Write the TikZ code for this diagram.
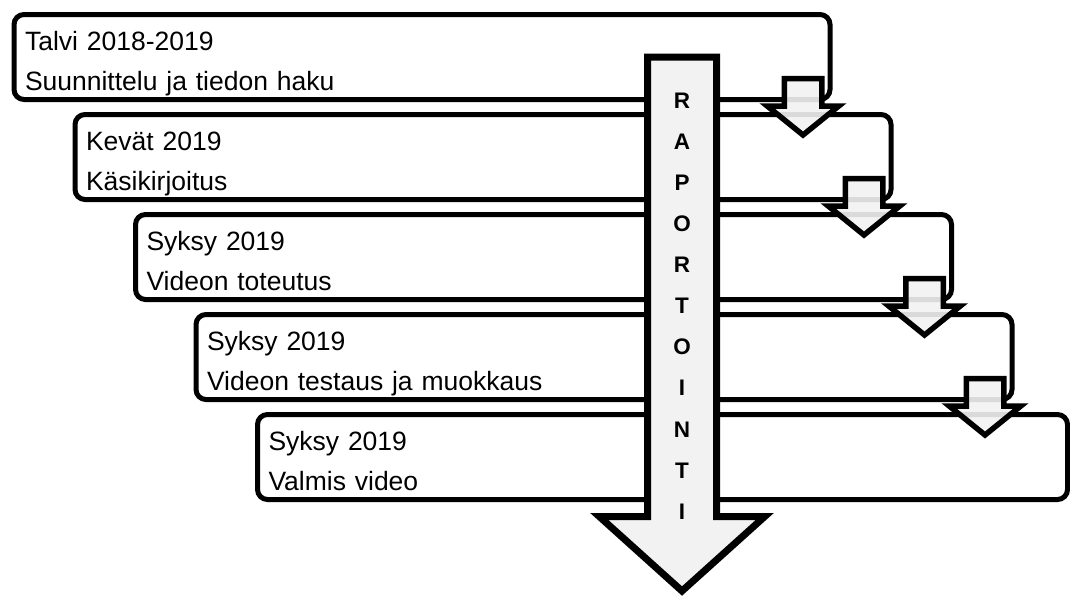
\documentclass[tikz,border=0pt]{standalone}
\usepackage{fontspec}
\setmainfont{Liberation Sans}
\usetikzlibrary{shapes.arrows}
\begin{document}
\begin{tikzpicture}[x=1pt, y=-1pt,
  phase/.style={draw, line width=5pt, rounded corners=10pt, fill=white, anchor=north west,
    outer sep=0pt, minimum height=85pt, text width=794pt, inner xsep=11pt, inner ysep=0pt,
    align=left, text height=33pt, text depth=46pt, font=\fontsize{26.5}{40}\selectfont},
  steparrow/.style={single arrow, draw, line width=5.5pt, fill=gray!10, fill opacity=0.9,
    rotate=-90, anchor=tip, inner xsep=0pt, inner ysep=16pt, outer sep=0pt,
    minimum height=56.5pt, single arrow head extend=17pt, single arrow tip angle=102},
  mainarrow/.style={single arrow, draw, line width=7pt, fill=gray!10,
    rotate=-90, anchor=tip, inner xsep=0pt, inner ysep=31pt, outer sep=0pt,
    minimum height=534pt, single arrow head extend=48pt, single arrow tip angle=96}]
\useasboundingbox (0,0) rectangle (1070,597);
\node[phase] (talvi) at (14,14.5) {Talvi 2018-2019\\Suunnittelu ja tiedon haku};
\node[phase] (kevat) at (75,114.5) {Kevät 2019\\Käsikirjoitus};
\node[phase] (toteutus) at (135.5,214.5) {Syksy 2019\\Videon toteutus};
\node[phase] (testaus) at (196,314.5) {Syksy 2019\\Videon testaus ja muokkaus};
\node[phase, text width=788pt] (valmis) at (257.5,414.5) {Syksy 2019\\Valmis video};
\node[steparrow] (a1) at (803,135) {};
\node[steparrow] (a2) at (864,235) {};
\node[steparrow] (a3) at (924.5,335) {};
\node[steparrow] (a4) at (985,435) {};
\node[mainarrow] (raportti) at (682,591) {};
\node[align=center, font=\bfseries\fontsize{22.5}{41.1}\selectfont] (kirjaimet) at (682,306)
  {R\\A\\P\\O\\R\\T\\O\\I\\N\\T\\I};
\end{tikzpicture}
\end{document}
